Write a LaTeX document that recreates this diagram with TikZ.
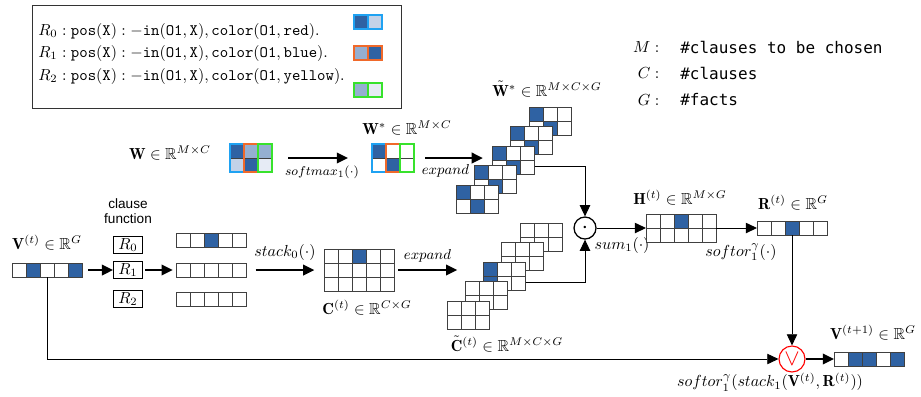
\documentclass[tikz,border=0pt]{standalone}
\usepackage{amsmath}
\usepackage{amssymb}
\usepackage{fontspec}
\newfontfamily\djmono{DejaVu Sans Mono}
\newfontfamily\lsans{Liberation Sans}
\usepackage{tikz}
\usetikzlibrary{arrows.meta, calc, positioning}

\definecolor{dkblue}{HTML}{2F62A3}
\definecolor{mdblue}{HTML}{95AFD1}
\definecolor{ltblue}{HTML}{C3D2E8}
\definecolor{paleblue}{HTML}{E6EBF5}
\definecolor{skyline}{HTML}{1FA2F2}
\definecolor{orline}{HTML}{F0692A}
\definecolor{grline}{HTML}{38E22C}

\tikzset{
  gridbox/.style={anchor=north west, inner sep=0pt, outer sep=0pt, fill=white},
  cellline/.style={draw=black!75, line width=0.6pt},
  bigarrow/.style={line width=1.4pt, -{Triangle[length=7pt, width=6.5pt]}},
  conn/.style={line width=0.6pt, -{Triangle[length=7pt, width=6.5pt]}},
  rbox/.style={draw, line width=0.6pt, minimum width=18pt, minimum height=10.5pt, inner sep=0pt},
}

% name, x, y (top left), columns, rows, filled cells col/row/colour
\newcommand{\cellgrid}[6]{%
  \node[gridbox, minimum width=#4*8.75pt, minimum height=#5*8.75pt] (#1) at (#2,#3) {};
  \foreach \ci/\ri/\fc in {#6}
    \fill[\fc] ($(#1.north west)+(\ci*14,\ri*14)$) rectangle ++(14,14);
  \foreach \ci in {1,...,#4}
    \foreach \ri in {1,...,#5}
      \draw[cellline] ($(#1.north west)+(\ci*14-14,\ri*14-14)$) rectangle ++(14,14);
}

\begin{document}
\begin{tikzpicture}[x=0.625pt, y=-0.625pt]
\useasboundingbox (0,0) rectangle (921,396);

% rules
\node[draw=black!80, line width=0.8pt, anchor=north west, minimum width=230.6pt, minimum height=64.4pt] (legend) at (32,5) {};
\node[anchor=west, inner sep=0pt] (rule0) at (38,31) {$R_0:\mathtt{pos}(\mathtt{X}):-\mathtt{in}(\mathtt{O1},\mathtt{X}),\mathtt{color}(\mathtt{O1},\mathtt{red}).$};
\node[anchor=west, inner sep=0pt] (rule1) at (38,53) {$R_1:\mathtt{pos}(\mathtt{X}):-\mathtt{in}(\mathtt{O1},\mathtt{X}),\mathtt{color}(\mathtt{O1},\mathtt{blue}).$};
\node[anchor=west, inner sep=0pt] (rule2) at (38,76) {$R_2:\mathtt{pos}(\mathtt{X}):-\mathtt{in}(\mathtt{O1},\mathtt{X}),\mathtt{color}(\mathtt{O1},\mathtt{yellow}).$};

\cellgrid{key0}{354}{15}{2}{1}{0/0/dkblue,1/0/ltblue}
\draw[skyline, line width=1pt] (key0.north west) rectangle (key0.south east) (key0.north) -- (key0.south);
\cellgrid{key1}{354}{46}{2}{1}{0/0/mdblue,1/0/dkblue}
\draw[orline, line width=1pt] (key1.north west) rectangle (key1.south east) (key1.north) -- (key1.south);
\cellgrid{key2}{354}{83}{2}{1}{0/0/mdblue,1/0/paleblue}
\draw[grline, line width=1pt] (key2.north west) rectangle (key2.south east) (key2.north) -- (key2.south);

% sizes
\node[anchor=east] (symm) at (665,47) {$M:$};
\node[anchor=west, inner sep=0pt] (descm) at (680,47) {\djmono\#clauses to be chosen};
\node[anchor=east] (symc) at (665,73) {$C:$};
\node[anchor=west, inner sep=0pt] (descc) at (680,73) {\djmono\#clauses};
\node[anchor=east] (symg) at (665,100) {$G:$};
\node[anchor=west, inner sep=0pt] (descg) at (680,100) {\djmono\#facts};

% clause weights
\node (wlab) at (170,153) {$\mathbf{W}\in\mathbb{R}^{M\times C}$};
\cellgrid{w}{230}{144}{3}{2}{0/0/dkblue,1/0/mdblue,2/0/mdblue,0/1/ltblue,1/1/dkblue,2/1/paleblue}
\foreach \ci/\lc in {0/skyline,1/orline,2/grline}
  \draw[\lc, line width=1pt] ($(w.north west)+(\ci*14,0)$) rectangle ++(14,28);

\cellgrid{ws}{372}{144}{3}{2}{0/0/dkblue,1/1/dkblue}
\foreach \ci/\lc in {0/skyline,1/orline,2/grline}
  \draw[\lc, line width=1pt] ($(ws.north west)+(\ci*14,0)$) rectangle ++(14,28);
\node (wslab) at (407,128) {$\mathbf{W}^*\in\mathbb{R}^{M\times C}$};

\draw[bigarrow, shorten <=10pt, shorten >=15pt] (w.east) -- node[below=1pt, font=\footnotesize] (smx) {$softmax_1(\cdot)$} (ws.west);

\foreach \i in {0,...,4}
  \cellgrid{wt\i}{529-18.25*\i}{107+19.5*\i}{3}{2}{0/0/dkblue,1/1/dkblue};
\node[inner sep=1pt] (wtlab) at (547,89) {$\tilde{\mathbf{W}}^*\in\mathbb{R}^{M\times C\times G}$};

\draw[bigarrow, shorten <=7pt, shorten >=6pt] (ws.east) -- node[below, pos=0.4, font=\small] (exp1) {$expand$} (ws.east -| wt2.west);

% valuation and clause functions
\cellgrid{v}{12}{263}{5}{1}{1/0/dkblue,4/0/dkblue}
\node (vlab) at (47,243) {$\mathbf{V}^{(t)}\in\mathbb{R}^{G}$};
\node[font={\lsans\fontsize{8.5}{9}\selectfont}, align=center] (cf) at (128,211) {clause\\function};
\node[rbox] (r0) at (128,245) {$R_0$};
\node[rbox] (r1) at (128,270) {$R_1$};
\node[rbox] (r2) at (128,299) {$R_2$};
\cellgrid{f0}{176}{233}{5}{1}{2/0/dkblue}
\cellgrid{f1}{176}{263}{5}{1}{0/0/white}
\cellgrid{f2}{176}{292}{5}{1}{0/0/white}
\draw[bigarrow, shorten <=3.75pt] (v.east) -- (r1.west);
\draw[bigarrow, shorten <=1.5pt, shorten >=2pt] (r1.east) -- (f1.west);

\cellgrid{c}{324}{249}{5}{3}{2/0/dkblue}
\node (clab) at (367,308) {$\mathbf{C}^{(t)}\in\mathbb{R}^{C\times G}$};
\draw[bigarrow, shorten <=6pt, shorten >=6pt] (f1.east) -- node[above=2pt] (stk) {$stack_0(\cdot)$} (c.west);

\foreach \i in {0,1}
  \cellgrid{ct\i}{520-18.25*\i}{223+19.5*\i}{3}{2}{0/0/white};
\cellgrid{ct2}{483.5}{262}{3}{2}{0/0/dkblue,0/1/dkblue}
\foreach \i in {3,4}
  \cellgrid{ct\i}{520-18.25*\i}{223+19.5*\i}{3}{2}{0/0/white};
\node[inner sep=1pt] (ctlab) at (507,344) {$\tilde{\mathbf{C}}^{(t)}\in\mathbb{R}^{M\times C\times G}$};
\draw[bigarrow, shorten <=2.5pt, shorten >=5pt] (c.east) -- node[above=1pt, pos=0.47, font=\small] (exp2) {$expand$} (c.east -| ct3.west);

% product and sum
\node[circle, draw, line width=0.8pt, minimum size=13.75pt, inner sep=0pt] (dot) at (585,228) {$\boldsymbol{\cdot}$};
\draw[conn] ([yshift=-3.75pt]wt2.east) -| (dot.north);
\draw[conn] ([yshift=-3.75pt]ct2.east) -| (dot.south);
\node[anchor=west] (sumlab) at (589,245) {$sum_1(\cdot)$};

\cellgrid{h}{646}{214}{5}{2}{2/0/dkblue}
\node (hlab) at (680,198) {$\mathbf{H}^{(t)}\in\mathbb{R}^{M\times G}$};
\draw[conn] (dot.east) -- (h.west);

\cellgrid{r}{757}{221}{5}{1}{2/0/dkblue}
\node (rlab) at (793,203) {$\mathbf{R}^{(t)}\in\mathbb{R}^{G}$};
\draw[conn] (h.east) -- (r.west);
\node (sorlab) at (741,252) {$softor_1^{\gamma}(\cdot)$};

% update
\node[circle, draw=red, text=red, line width=0.7pt, minimum size=16.25pt, inner sep=0pt] (or) at (792,359) {\Large$\vee$};
\draw[conn] (r.south) -- (or.north);
\draw[conn] (v.south) |- (or.west);
\cellgrid{vn}{834}{352}{5}{1}{1/0/dkblue,2/0/dkblue,4/0/dkblue}
\draw[bigarrow] (or.east) -- (vn.west);
\node (vnlab) at (873,333) {$\mathbf{V}^{(t+1)}\in\mathbb{R}^{G}$};
\node (outlab) at (770,382) {$softor_1^{\gamma}(stack_1(\mathbf{V}^{(t)},\mathbf{R}^{(t)}))$};
\end{tikzpicture}
\end{document}
